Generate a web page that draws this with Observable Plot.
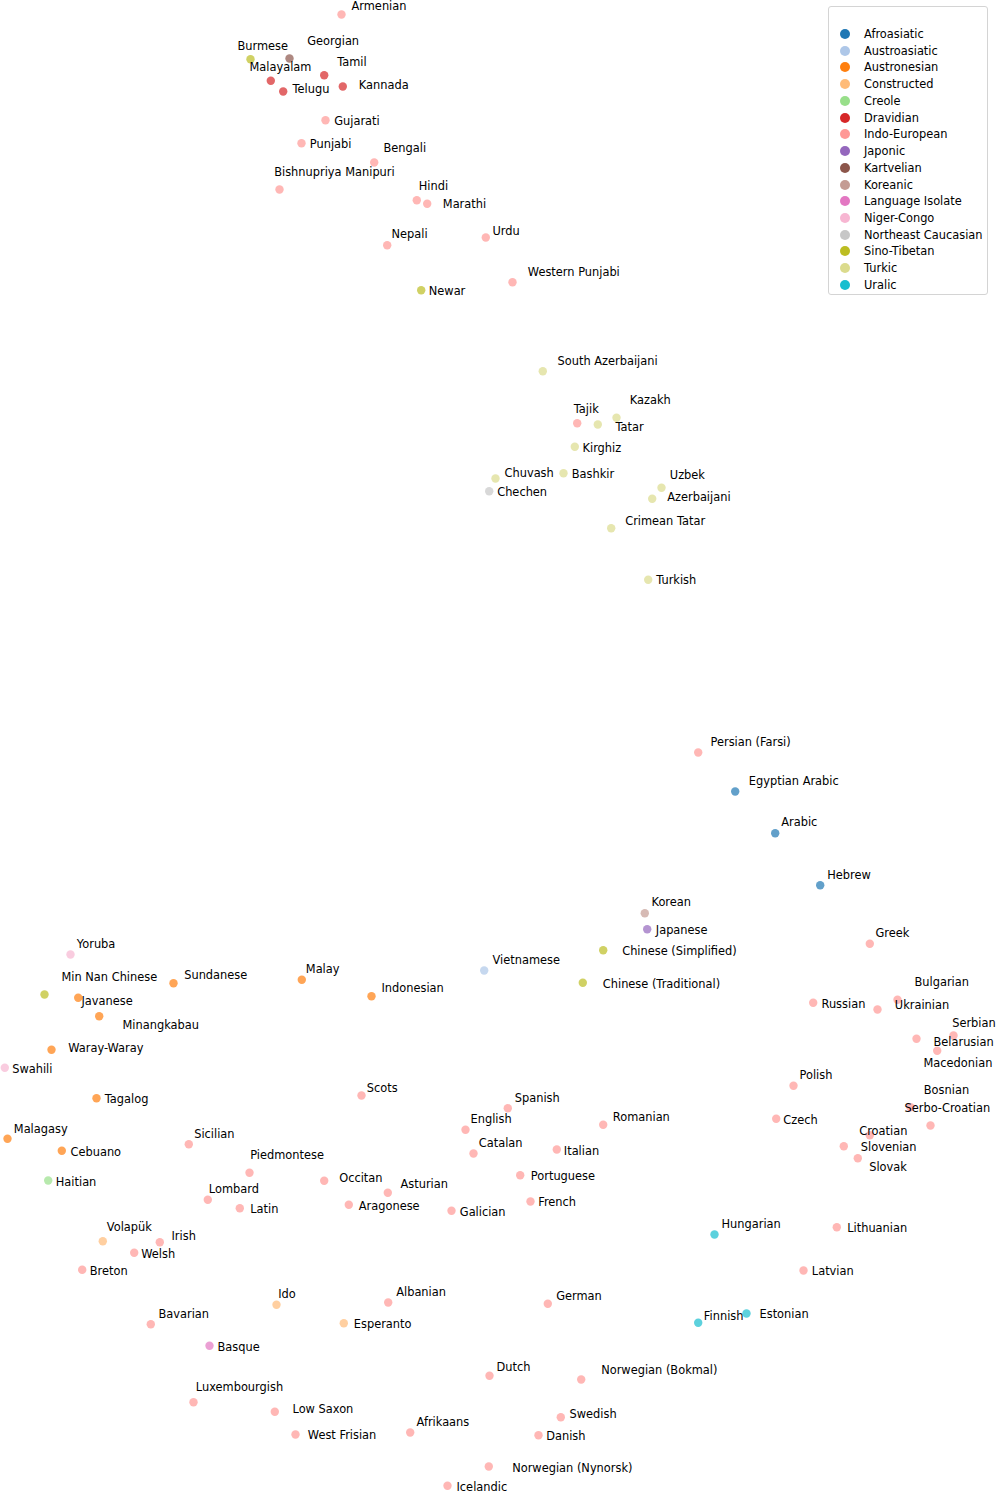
<!DOCTYPE html>
<html>
<head>
<meta charset="utf-8">
<script src="https://cdn.jsdelivr.net/npm/d3@7"></script>
<script src="https://cdn.jsdelivr.net/npm/@observablehq/plot@0.6"></script>
<style>
  html, body { margin: 0; padding: 0; background: #fff; }
  #wrap { position: relative; width: 996px; height: 1493px; font-family: "DejaVu Sans", sans-serif; }
  #legend {
    position: absolute; left: 828px; top: 6px; width: 158px; height: 287px;
    border: 1px solid #d4d4d4; border-radius: 3px; background: rgba(255,255,255,0.8);
    box-sizing: content-box;
  }
  #legend .row { position: absolute; left: 0; height: 16px; display: flex; align-items: center; font-size: 11.4px; color: #000; white-space: nowrap; }
  #legend .sw { position: absolute; left: 11px; width: 10px; height: 10px; border-radius: 50%; }
  #legend .lb { position: absolute; left: 35px; }
</style>
</head>
<body>
<div id="wrap"></div>
<script>
// Language families (legend order) and their colours
const families = ["Afroasiatic","Austroasiatic","Austronesian","Constructed","Creole","Dravidian","Indo-European","Japonic","Kartvelian","Koreanic","Language Isolate","Niger-Congo","Northeast Caucasian","Sino-Tibetan","Turkic","Uralic"];
const familyColors = ["#1f77b4","#aec7e8","#ff7f0e","#ffbb78","#98df8a","#d62728","#ff9896","#9467bd","#8c564b","#c49c94","#e377c2","#f7b6d2","#c7c7c7","#bcbd22","#dbdb8d","#17becf"];

// Languages, family, embedding coordinates (dim1, dim2) and label anchor (labelDim1, labelDim2)
const names = ["Armenian","Burmese","Georgian","Malayalam","Tamil","Telugu","Kannada","Gujarati","Punjabi","Bengali","Bishnupriya Manipuri","Hindi","Marathi","Nepali","Urdu","Western Punjabi","Newar",
 "South Azerbaijani","Kazakh","Tajik","Tatar","Kirghiz","Chuvash","Bashkir","Chechen","Uzbek","Azerbaijani","Crimean Tatar","Turkish",
 "Persian (Farsi)","Egyptian Arabic","Arabic","Hebrew","Korean","Japanese","Chinese (Simplified)","Chinese (Traditional)","Vietnamese","Greek",
 "Bulgarian","Russian","Ukrainian","Serbian","Belarusian","Macedonian","Polish","Czech","Bosnian","Serbo-Croatian","Croatian","Slovenian","Slovak","Lithuanian","Latvian","Hungarian","Finnish","Estonian",
 "Yoruba","Min Nan Chinese","Sundanese","Malay","Indonesian","Javanese","Minangkabau","Waray-Waray","Swahili","Tagalog","Scots","Malagasy","Cebuano","Sicilian","Piedmontese","Haitian","Occitan","Lombard","Latin","Aragonese",
 "Spanish","English","Romanian","Catalan","Italian","Portuguese","Asturian","Galician","French",
 "Volapük","Irish","Welsh","Breton","Ido","Bavarian","Esperanto","Basque","Luxembourgish","Low Saxon","West Frisian",
 "Albanian","German","Dutch","Norwegian (Bokmal)","Afrikaans","Swedish","Danish","Norwegian (Nynorsk)","Icelandic"];

const langFamilies = ["Indo-European","Sino-Tibetan","Kartvelian","Dravidian","Dravidian","Dravidian","Dravidian","Indo-European","Indo-European","Indo-European","Indo-European","Indo-European","Indo-European","Indo-European","Indo-European","Indo-European","Sino-Tibetan",
 "Turkic","Turkic","Indo-European","Turkic","Turkic","Turkic","Turkic","Northeast Caucasian","Turkic","Turkic","Turkic","Turkic",
 "Indo-European","Afroasiatic","Afroasiatic","Afroasiatic","Koreanic","Japonic","Sino-Tibetan","Sino-Tibetan","Austroasiatic","Indo-European",
 "Indo-European","Indo-European","Indo-European","Indo-European","Indo-European","Indo-European","Indo-European","Indo-European","Indo-European","Indo-European","Indo-European","Indo-European","Indo-European","Indo-European","Indo-European","Uralic","Uralic","Uralic",
 "Niger-Congo","Sino-Tibetan","Austronesian","Austronesian","Austronesian","Austronesian","Austronesian","Austronesian","Niger-Congo","Austronesian","Indo-European","Austronesian","Austronesian","Indo-European","Indo-European","Creole","Indo-European","Indo-European","Indo-European","Indo-European",
 "Indo-European","Indo-European","Indo-European","Indo-European","Indo-European","Indo-European","Indo-European","Indo-European","Indo-European",
 "Constructed","Indo-European","Indo-European","Indo-European","Constructed","Indo-European","Constructed","Language Isolate","Indo-European","Indo-European","Indo-European",
 "Indo-European","Indo-European","Indo-European","Indo-European","Indo-European","Indo-European","Indo-European","Indo-European","Indo-European"];

const dim1 = [341,250,289,270.3,323.7,282.7,342.3,325,301,373.7,279,416.3,426.7,386.7,485.3,512,420.7,
 542.3,616,576.7,597.3,574.3,495,563,488.7,661,651.7,610.7,647.7,
 697.7,734.7,774.7,819.7,644.3,646.7,602.7,582.3,483.7,869.3,
 897,812.7,877,953,916,936.7,793,775.7,930,910,869.3,843.3,857.3,836.3,803,714,697.7,746,
 70,44,173,301.3,371,77.7,98.7,51,4.3,96,361,7,61.3,188.3,249,47.7,323.7,207.3,239.3,348.3,
 507.3,465,602.7,473,556.3,519.7,387.3,451,530,
 102.3,159.3,133.7,81.7,276,150.3,343.3,209,193,274.3,295,
 387.7,547.3,489,580.7,409.7,560.3,538,488.3,447];

const dim2 = [14,58.7,58,80.3,74.7,91,86,119.7,142.7,162,189,199.7,203.3,244.7,237,281.7,289.7,
 370.7,417.3,422.7,424,446.3,478,472.7,490.7,487.3,498.3,527.7,579.3,
 752,791,832.7,884.7,912.7,928.7,949.7,982.3,970,943.3,
 999.3,1002.3,1009,1035,1038.3,1050.3,1085.3,1118.3,1125,1106.7,1134.7,1145.7,1157.7,1226.7,1270,1234,1322.3,1313,
 954,994,982.7,979.3,995.7,997.3,1015.7,1049.3,1067.3,1097.7,1095,1138.3,1150.3,1143.7,1172.3,1180,1180.3,1199.3,1207.7,1204.3,
 1107.7,1129.3,1124.3,1153,1149,1174.7,1192.3,1210.3,1201,
 1240.7,1241.7,1252.3,1269.3,1304.3,1323.7,1322.7,1345.3,1401.7,1411.3,1434,
 1302,1303.3,1375.3,1379,1432,1416.7,1434.7,1466,1485.3];

const labelDim1 = [351,237,306.7,249,336.7,292,358.3,333.7,309.3,383,273.7,418.3,442.3,391,492,527.3,428.3,
 557,629.3,573.3,615,582,504,571.3,496.7,669.3,666.7,624.7,655.7,
 710,748.3,780.7,826.7,651,655.3,621.7,602.3,492,875,
 914,821,894.3,951.7,933,923,799,782.7,923.3,904,858.7,860.3,868.7,846.7,811.3,721,703.3,759,
 76.3,61,183.7,305.3,381,81,122,67.7,11.7,104.3,366.3,13.3,70,193.7,249.7,55.3,338.7,208.3,249.7,358.3,
 514.3,470,612.3,478.3,563.3,530.3,400,459.3,537.7,
 106.3,171,140.7,89.3,277.7,158,353.3,217,195.3,292,307.3,
 395.7,555.7,496,600.7,416,569,545.7,511.7,456];

const labelDim2 = [6,45.7,40.7,67,61.7,89,84.7,121,144,148,171.7,186,204.3,234.3,230.7,272.3,291.3,
 360.7,400.3,409,426.7,448,472.7,474.3,492,475,496.7,521,580,
 742,781.3,822.3,874.7,902.3,930,950.7,983.7,960,933.3,
 982,1003.7,1005,1022.7,1041.7,1063.3,1075,1119.7,1090,1107.7,1130.7,1147.3,1166.7,1228.3,1271.3,1224,1316,1314.3,
 944,976.7,975,969.3,988,1000.7,1024.7,1048,1069.3,1099.3,1088.3,1128.7,1152,1134,1155,1181.7,1178.3,1189.3,1209.3,1206,
 1097.7,1119.3,1116.7,1143,1150.7,1176,1184,1212,1202.3,
 1227.3,1236,1254.3,1271,1294,1313.7,1323.7,1346.7,1387,1408.7,1435.3,
 1292,1295.7,1367.3,1370,1422,1413.7,1436,1468,1486.7];

const data = names.map((n, i) => ({
  name: n, family: langFamilies[i], x: dim1[i], y: dim2[i], lx: labelDim1[i], ly: labelDim2[i]
}));

const chart = Plot.plot({
  width: 996,
  height: 1493,
  margin: 0,
  style: { fontFamily: "DejaVu Sans", background: "#fff" },
  x: { domain: [0, 996], axis: null },
  y: { domain: [0, 1493], range: [0, 1493], axis: null },
  color: { domain: families, range: familyColors },
  marks: [
    Plot.dot(data, { x: "x", y: "y", fill: "family", r: 4.2, fillOpacity: 0.7, stroke: null }),
    Plot.text(data, { x: "lx", y: "ly", text: "name", textAnchor: "start", lineAnchor: "middle", fontSize: 11.4, fill: "#000", fontFamily: "DejaVu Sans" })
  ]
});

const wrap = document.getElementById("wrap");
wrap.appendChild(chart);

// Legend (top-right, overlaid on the chart)
const leg = d3.select(wrap).append("div").attr("id", "legend");
const rows = leg.selectAll(".row").data(families).join("div")
  .attr("class", "row")
  .style("top", (d, i) => (19 + i * 16.73) + "px")
  .style("width", "158px");
rows.append("span").attr("class", "sw").style("background", (d, i) => familyColors[i]).style("top", "3px");
rows.append("span").attr("class", "lb").text(d => d);
</script>
</body>
</html>
